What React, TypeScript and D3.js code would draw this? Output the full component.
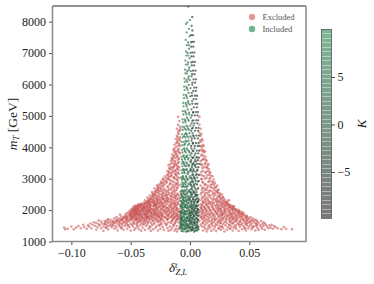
import React, { useEffect, useRef } from 'react'
import * as d3 from 'd3'

type Row = [number, number[]]

// each row: mT in GeV, then delta values in units of 0.001
const excludedTail: Row[] = [
	[1318, [-11, 14, 29]],
	[1337, [-73, -41, -33, -18, 18, 22, 41]],
	[1352, [-61, -50, -27, -13, 11, 36, 47, 55]],
	[1371, [-79, -56, -47, -38, -22, -16, 26, 31, 58, 63]],
	[1388, [-105, -98, -69, -43, -31, -10, 15, 20, 44, 52, 77, 86]],
	[1404, [-103, -87, -64, -53, -35, -25, -12, 13, 34, 39, 61, 70, 81]],
	[1423, [-92, -83, -75, -58, -46, -19, 24, 28, 49, 57, 66, 74]],
	[1441, [-106, -96, -71, -62, -40, -29, -15, -9, 17, 37, 46, 53, 68]],
	[1459, [-89, -78, -66, -51, -44, -23, 12, 21, 32, 42, 60, 72, 79]],
	[1476, [-100, -85, -73, -59, -48, -34, -17, 10, 27, 35, 50, 56, 65]],
	[1494, [-94, -80, -68, -63, -55, -37, -28, -11, 19, 25, 45, 54, 62, 71]],
	[1515, [-86, -76, -70, -60, -52, -42, -32, -20, 16, 30, 38, 48, 59, 67]],
	[1533, [-90, -82, -65, -57, -49, -39, -26, -14, 9, 23, 33, 43, 51, 64, 69]],
	[1552, [-77, -72, -67, -54, -45, -36, -24, -8, 18, 28, 40, 47, 56, 61]],
	[1574, [-84, -74, -62, -58, -50, -41, -30, -21, -13, 14, 22, 36, 44, 52, 63]],
	[1592, [-79, -69, -64, -53, -47, -38, -33, -16, 11, 26, 31, 41, 49, 58]],
	[1613, [-81, -71, -66, -60, -55, -43, -27, -18, -10, 20, 29, 37, 46, 54, 62]],
	[1635, [-75, -68, -63, -56, -48, -40, -35, -22, 13, 24, 34, 39, 51, 57]],
	[1654, [-72, -65, -59, -51, -44, -37, -29, -12, 8, 17, 30, 42, 47, 60]],
	[1673, [-77, -70, -61, -54, -46, -41, -31, -25, -15, 21, 27, 35, 45, 52, 56]],
	[1695, [-67, -62, -57, -49, -42, -34, -23, -9, 15, 25, 33, 40, 48, 55]],
]

const excludedBody: Row[] = [
	[1714, [-69, -58, -52, -47, -39, -36, -28, -19, -11, 10, 19, 28, 38, 43, 50]],
	[1733, [-64, -60, -54, -45, -41, -32, -24, -14, 16, 23, 31, 36, 46, 53]],
	[1756, [-56, -50, -43, -37, -30, -21, -17, -8, 12, 26, 34, 41, 49]],
	[1775, [-62, -53, -48, -40, -35, -26, -13, 9, 18, 29, 37, 44, 51]],
	[1798, [-58, -51, -46, -38, -33, -22, -16, -10, 14, 21, 32, 39, 47]],
	[1816, [-55, -49, -44, -36, -29, -25, -12, 11, 24, 30, 35, 42, 48]],
	[1839, [-52, -47, -41, -34, -27, -18, -9, 8, 17, 27, 33, 40, 46]],
	[1857, [-59, -50, -43, -39, -31, -23, -15, 13, 20, 25, 36, 44]],
	[1878, [-54, -48, -45, -37, -28, -20, -11, 10, 16, 29, 38, 43]],
	[1896, [-51, -46, -42, -35, -30, -24, -13, 19, 23, 31, 35, 45]],
	[1917, [-53, -49, -40, -33, -26, -17, -8, 12, 22, 28, 37, 41]],
	[1939, [-47, -44, -38, -32, -21, -14, 9, 15, 26, 33, 39, 44]],
	[1958, [-51, -45, -41, -36, -29, -19, -10, 18, 24, 30, 42]],
	[1979, [-48, -43, -39, -34, -25, -16, 11, 21, 27, 34, 40]],
	[1998, [-50, -46, -37, -31, -22, -12, 8, 14, 29, 36, 41]],
	[2019, [-47, -42, -35, -28, -18, -9, 17, 23, 32, 38]],
	[2037, [-49, -44, -40, -33, -24, -15, 10, 20, 26, 35, 39]],
	[2060, [-46, -41, -36, -30, -20, -11, 13, 25, 31, 37]],
	[2079, [-48, -43, -38, -27, -17, 9, 16, 22, 33, 36]],
	[2098, [-45, -39, -34, -23, -13, 12, 19, 28, 34]],
	[2121, [-47, -42, -37, -31, -26, -8, 15, 24, 30, 37]],
	[2143, [-46, -40, -35, -21, -16, 10, 21, 27, 35]],
	[2165, [-44, -41, -33, -29, -12, 18, 25, 31, 33]],
	[2188, [-43, -38, -30, -24, -19, 9, 14, 23, 29]],
	[2210, [-41, -36, -27, -15, -10, 17, 26, 32]],
	[2236, [-39, -34, -31, -22, -13, 12, 20, 28, 31]],
	[2259, [-37, -33, -25, -18, 11, 16, 24, 30]],
	[2288, [-36, -29, -21, -9, 19, 22, 27]],
	[2312, [-38, -32, -26, -14, 8, 13, 25, 33]],
	[2341, [-35, -28, -23, -17, 15, 21, 29]],
	[2369, [-33, -30, -20, -11, 10, 18, 26]],
	[2398, [-36, -27, -24, -13, 14, 23, 28]],
	[2431, [-32, -26, -16, -9, 12, 20, 25]],
	[2463, [-34, -29, -22, -12, 17, 24]],
	[2498, [-31, -25, -18, -10, 9, 19, 27]],
	[2534, [-30, -23, -15, 13, 21, 25]],
	[2573, [-32, -27, -19, -8, 11, 16, 23]],
	[2610, [-29, -24, -13, 18, 22]],
	[2651, [-28, -21, -16, 10, 14, 24]],
	[2695, [-30, -25, -11, 12, 20]],
	[2738, [-27, -19, -14, 17, 22]],
]

const excludedNeck: Row[] = [
	[2782, [-28, -23, -9, 9, 15, 23]],
	[2826, [-25, -17, -12, 13, 19]],
	[2873, [-24, -20, -10, 11, 21]],
	[2921, [-22, -15, 16, 18]],
	[2975, [-23, -18, -11, 10, 20]],
	[3024, [-20, -14, -9, 14, 17]],
	[3078, [-21, -16, 12, 19]],
	[3131, [-19, -12, 9, 16]],
	[3188, [-18, -15, -10, 13, 17]],
	[3247, [-19, -13, 11, 15]],
	[3309, [-17, -11, 16]],
	[3368, [-16, -14, -9, 12, 14]],
	[3432, [-18, -12, 10, 15]],
	[3497, [-15, -10, 13]],
	[3561, [-16, -13, 9, 14]],
	[3626, [-15, -9, 11, 12]],
	[3694, [-14, -11, 13]],
	[3768, [-15, -12, 10]],
	[3841, [-13, -9, 12]],
	[3914, [-14, -10, 9, 11]],
	[3995, [-12, 10]],
	[4083, [-13, -9, 11]],
	[4172, [-11, 9]],
	[4264, [-12, -9, 10]],
	[4367, [-11, 9]],
	[4471, [-10, 8]],
	[4593, [-11, -8, 9]],
	[4716, [-10, 8]],
	[4838, [-9]],
	[4969, [-10, 8]],
]

// second pass over the dense parts of the excluded cloud
const excludedFillLeft: Row[] = [
	[1446, [-57.5, -33.5, -70.5]],
	[1507, [-44.5, -25.5, -65.5, -13.5, -52.5]],
	[1563, [-30.5, -59.5, -47.5, -19.5, -71.5, -39.5]],
	[1602, [-56.5, -35.5, -12.5, -44.5, -24.5, -64.5]],
	[1645, [-31.5, -52.5, -15.5, -42.5, -61.5, -26.5, -38.5]],
	[1688, [-53.5, -37.5, -19.5, -45.5, -27.5, -58.5, -11.5]],
	[1707, [-33.5, -50.5, -14.5, -43.5, -24.5]],
	[1727, [-49.5, -29.5, -38.5, -56.5, -18.5, -10.5, -44.5]],
	[1748, [-34.5, -47.5, -25.5, -13.5, -53.5, -40.5]],
	[1767, [-45.5, -31.5, -20.5, -55.5, -36.5, -9.5]],
	[1787, [-42.5, -27.5, -49.5, -15.5, -35.5, -23.5]],
	[1808, [-48.5, -32.5, -18.5, -40.5, -53.5, -11.5, -26.5]],
	[1827, [-37.5, -23.5, -46.5, -30.5, -14.5, -42.5]],
	[1848, [-44.5, -28.5, -50.5, -36.5, -19.5, -10.5]],
	[1868, [-32.5, -46.5, -24.5, -41.5, -13.5, -38.5]],
	[1887, [-49.5, -26.5, -36.5, -17.5, -44.5, -29.5]],
	[1906, [-38.5, -47.5, -21.5, -32.5, -11.5, -43.5]],
	[1928, [-45.5, -29.5, -35.5, -15.5, -50.5, -24.5]],
	[1948, [-41.5, -27.5, -48.5, -19.5, -34.5, -9.5]],
	[1969, [-36.5, -46.5, -22.5, -30.5, -13.5, -42.5]],
	[1988, [-44.5, -26.5, -39.5, -17.5, -48.5, -33.5]],
	[2008, [-34.5, -45.5, -20.5, -29.5, -11.5, -40.5]],
	[2028, [-43.5, -24.5, -37.5, -14.5, -47.5, -31.5]],
	[2049, [-38.5, -27.5, -45.5, -18.5, -32.5, -10.5]],
	[2070, [-44.5, -34.5, -22.5, -39.5, -13.5, -28.5]],
	[2090, [-41.5, -25.5, -46.5, -15.5, -36.5, -19.5]],
	[2112, [-33.5, -43.5, -28.5, -11.5, -38.5, -21.5]],
	[2132, [-44.5, -24.5, -36.5, -17.5, -30.5]],
	[2154, [-39.5, -28.5, -42.5, -13.5, -22.5, -33.5]],
	[2176, [-35.5, -41.5, -26.5, -16.5, -30.5, -10.5]],
	[2199, [-38.5, -23.5, -33.5, -12.5, -28.5]],
	[2223, [-35.5, -29.5, -20.5, -37.5, -14.5, -25.5]],
	[2248, [-31.5, -23.5, -35.5, -16.5, -27.5, -10.5]],
	[2274, [-34.5, -27.5, -19.5, -12.5, -30.5]],
	[2301, [-30.5, -24.5, -34.5, -15.5, -19.5]],
	[2328, [-27.5, -33.5, -21.5, -11.5, -18.5]],
	[2356, [-31.5, -25.5, -15.5, -22.5, -9.5]],
	[2385, [-28.5, -18.5, -33.5, -12.5, -22.5]],
	[2415, [-30.5, -23.5, -14.5, -19.5]],
	[2448, [-27.5, -20.5, -31.5, -11.5, -16.5]],
	[2480, [-29.5, -23.5, -13.5, -19.5]],
	[2516, [-26.5, -20.5, -31.5, -15.5, -10.5]],
	[2553, [-28.5, -22.5, -12.5, -17.5]],
	[2590, [-25.5, -20.5, -29.5, -14.5]],
	[2630, [-26.5, -18.5, -11.5, -22.5]],
	[2672, [-24.5, -17.5, -13.5, -27.5]],
	[2716, [-22.5, -15.5, -26.5, -10.5]],
	[2760, [-24.5, -18.5, -12.5]],
	[2804, [-21.5, -14.5, -26.5, -10.5]],
	[2850, [-22.5, -16.5, -11.5]],
	[2898, [-19.5, -24.5, -13.5]],
	[2948, [-20.5, -16.5, -10.5]],
	[3001, [-18.5, -12.5, -22.5]],
	[3051, [-17.5, -13.5, -10.5]],
	[3105, [-18.5, -11.5, -15.5]],
	[3160, [-16.5, -12.5, -9.5]],
	[3218, [-17.5, -11.5, -14.5]],
	[3278, [-15.5, -12.5, -9.5]],
	[3338, [-14.5, -10.5, -17.5]],
	[3400, [-13.5, -10.5]],
	[3465, [-16.5, -11.5, -13.5]],
	[3529, [-12.5, -9.5]],
	[3594, [-14.5, -10.5]],
	[3660, [-12.5, -9.5, -15.5]],
	[3730, [-13.5, -10.5]],
	[3805, [-11.5, -8.5]],
	[3878, [-12.5, -10.5]],
	[3955, [-13.5, -9.5]],
	[4040, [-10.5, -8.5]],
	[4128, [-11.5, -9.5]],
	[4218, [-10.5, -8.5]],
	[4316, [-10.5, -8.5]],
	[4420, [-9.5]],
	[4532, [-9.5, -8.5]],
	[4655, [-8.5]],
]

const excludedFillRight: Row[] = [
	[1412, [24.5, 46.5, 33.5]],
	[1468, [38.5, 15.5, 52.5, 26.5]],
	[1527, [21.5, 41.5, 12.5, 56.5, 33.5]],
	[1583, [35.5, 47.5, 18.5, 25.5, 55.5, 10.5]],
	[1624, [42.5, 23.5, 33.5, 15.5, 50.5]],
	[1664, [25.5, 38.5, 11.5, 48.5, 18.5, 53.5]],
	[1704, [30.5, 44.5, 13.5, 21.5, 36.5]],
	[1745, [39.5, 20.5, 47.5, 27.5, 11.5, 33.5]],
	[1786, [24.5, 42.5, 15.5, 35.5, 9.5, 47.5]],
	[1826, [31.5, 19.5, 38.5, 26.5, 44.5, 12.5]],
	[1868, [34.5, 22.5, 41.5, 14.5, 27.5]],
	[1907, [26.5, 40.5, 17.5, 33.5, 10.5, 43.5]],
	[1950, [36.5, 21.5, 29.5, 13.5, 41.5]],
	[1990, [24.5, 32.5, 16.5, 38.5, 10.5]],
	[2030, [29.5, 19.5, 36.5, 12.5, 25.5]],
	[2071, [34.5, 23.5, 15.5, 28.5, 9.5]],
	[2112, [26.5, 32.5, 18.5, 11.5, 36.5]],
	[2155, [29.5, 22.5, 13.5, 33.5]],
	[2199, [27.5, 19.5, 31.5, 10.5, 15.5]],
	[2248, [25.5, 17.5, 29.5, 13.5, 22.5]],
	[2300, [23.5, 28.5, 15.5, 10.5, 31.5]],
	[2355, [26.5, 19.5, 12.5, 22.5]],
	[2414, [24.5, 16.5, 27.5, 10.5]],
	[2480, [21.5, 15.5, 25.5, 12.5]],
	[2552, [19.5, 23.5, 14.5, 9.5]],
	[2630, [20.5, 12.5, 16.5, 23.5]],
	[2716, [18.5, 14.5, 10.5, 21.5]],
	[2803, [17.5, 12.5, 20.5]],
	[2896, [15.5, 19.5, 10.5]],
	[2998, [16.5, 12.5, 9.5]],
	[3104, [14.5, 17.5, 10.5]],
	[3218, [13.5, 9.5, 16.5]],
	[3337, [14.5, 10.5]],
	[3465, [12.5, 9.5, 15.5]],
	[3595, [13.5, 10.5]],
	[3730, [11.5, 9.5]],
	[3878, [10.5, 12.5]],
	[4040, [9.5, 11.5]],
	[4218, [8.5, 10.5]],
	[4420, [9.5]],
]

// included points, K roughly the same within one list
const includedHigh: Row[] = [
	[1322, [-5.4, -1.2]],
	[1407, [-7.8, -5, -2.6, -0.4]],
	[1498, [-8.2, -6.3, -3.4, -1.7]],
	[1633, [-7.4, -5.9, -2.9, -0.8]],
	[1719, [-8.1, -6.6, -4.2, -2.2]],
	[1856, [-7.7, -5.1, -3.3, -0.9]],
	[1937, [-8.3, -6.2, -4.5, -1.9]],
	[2071, [-7.5, -5.4, -2.7, -1.1]],
	[2162, [-8, -6.4, -3.8, -2.1]],
	[2295, [-7.2, -4.9, -3, -0.7]],
	[2378, [-7.9, -5.9, -4, -1.5]],
	[2511, [-7.1, -5.2, -2.4]],
	[2604, [-7.7, -6, -3.6, -1.3]],
	[2733, [-6.8, -4.6, -2.8]],
	[2822, [-7.4, -5.5, -3.4, -0.6]],
	[2958, [-6.9, -4.3, -1.8]],
	[3041, [-7.5, -5.7, -3.1]],
	[3177, [-6.6, -4.4, -1.4]],
	[3262, [-7.2, -5.3, -2.5]],
	[3394, [-6.4, -3.7, -0.9]],
	[3483, [-7, -5, -2.3]],
	[3612, [-6.7, -4.1, -1.6]],
	[3704, [-7.1, -5.6, -3.2]],
	[3835, [-6.3, -3.5, -0.5]],
	[3921, [-6.8, -4.7, -2]],
	[4068, [-6.5, -4.8, -1.8]],
	[4173, [-7, -5.4, -3]],
	[4312, [-6.2, -3.9, -1.2]],
	[4409, [-6.7, -4.5, -2.6]],
	[4553, [-6, -3.3, -0.9]],
	[4651, [-6.4, -4.9, -2.1]],
	[4792, [-5.9, -3.8]],
	[4888, [-6.3, -4.4, -1.7]],
	[5044, [-5.6, -3, -0.6]],
	[5151, [-6, -4.1]],
	[5303, [-5.4, -2.7]],
	[5411, [-5.7, -3.6, -1.3]],
	[5566, [-5, -2.4]],
	[5672, [-5.3, -3.3]],
	[5824, [-4.6, -1.9]],
	[5933, [-5, -3]],
	[6085, [-4.3, -2.2]],
	[6191, [-4.7, -1.5]],
	[6353, [-3.9, -2.6]],
	[6472, [-4.2, -1.1]],
	[6634, [-3.5, -2]],
	[6763, [-3.9]],
	[6922, [-3.1, -1.4]],
	[7051, [-3.4]],
	[7253, [-2.7, -0.9]],
	[7420, [-3.6]],
	[7660, [-2.8]],
	[7770, [-0.8]],
	[7930, [-3.4]],
	[7980, [-2.2]],
	[8054, [0]],
	[8480, [-1.5]],
]

const includedMid: Row[] = [
	[1309, [-3.3, 3.4]],
	[1346, [-6.8, -1.4, 0.8, 5.9]],
	[1382, [-4.1, 2.2, 7.2]],
	[1428, [-8.4, -6.4, -3.2, 1.6, 4.2]],
	[1467, [-7.2, -2.1, 0.3, 6.3]],
	[1521, [-5.6, -0.9, 3, 5.4]],
	[1553, [-7.1, -4.6, -1.9, 2.1]],
	[1589, [-8.1, -3.5, 0.5, 4.5]],
	[1647, [-6.1, -3.7, -1.2, 1.2, 3.8]],
	[1682, [-7.7, -4.4, 0, 6.6]],
	[1741, [-6.9, -2.4, 1.9, 5]],
	[1772, [-7.5, -4.8, -2.6, 0.2, 2.6]],
	[1818, [-5.3, -0.5, 3.5, 7]],
	[1889, [-6.6, -3.5, -0.6, 1.7, 4.4]],
	[1913, [-7.9, -4.7, 0.9, 5.6]],
	[1974, [-7.2, -4.1, -2.3, 0.7, 3.3, 5.8]],
	[2014, [-6.3, -1.3, 2.4, 6.7]],
	[2098, [-6.2, -3.6, -0.4, 2, 4.6]],
	[2133, [-7.6, -4.3, 1.1, 5.2]],
	[2216, [-7, -4.9, -1.6, 0.9, 3.5]],
	[2257, [-5.7, -2.8, 2.9, 6.5]],
	[2333, [-5.9, -2.9, 0.1, 2.7, 5]],
	[2419, [-6.8, -3.3, -0.8, 1.4, 4]],
	[2476, [-7.4, -4.2, 0.5, 5.7]],
	[2552, [-5.5, -2.2, 0.6, 3.1]],
	[2638, [-6.5, -4.4, -0.5, 2.2, 4.8]],
	[2769, [-5.6, -1.9, 1, 3.6]],
	[2884, [-6.3, -3.8, 0.3, 2.5]],
	[2993, [-5.2, -2.5, 1.5, 4.3]],
	[3082, [-6, -3.4, -0.3, 3.2]],
	[3215, [-5, -1.5, 1.9, 4.5]],
	[3304, [-5.8, -2.8, 0.4, 2.9]],
	[3436, [-4.7, -0.7, 1.8, 4.1]],
	[3519, [-5.5, -3.1, 0.9, 3.4]],
	[3658, [-4.5, -1.1, 2.3]],
	[3742, [-5.2, -2.4, 0.2, 3.9]],
	[3877, [-4.2, -0.9, 2.8]],
	[3962, [-5, -2.7, 1.1, 3.7]],
	[4113, [-4.3, -0.7, 2.4]],
	[4208, [-3.6, -1.4, 1.3]],
	[4351, [-5, -2.3, 0.5, 3.1]],
	[4447, [-3.4, -0.4, 2.2]],
	[4596, [-4.4, -1.6, 1.6]],
	[4689, [-2.9, 0.3, 3]],
	[4844, [-4, -1.1, 2]],
	[4947, [-2.5, 0.7]],
	[5103, [-3.6, -0.8, 2.6]],
	[5206, [-1.9, 1.2]],
	[5362, [-3.1, -0.3]],
	[5471, [-1.6, 1.8]],
	[5623, [-3, 0.2]],
	[5733, [-1.2, 1.5]],
	[5882, [-2.6, 0.4]],
	[5991, [-0.9, 1.9]],
	[6142, [-2.9, -0.2]],
	[6258, [-1, 1.3]],
	[6423, [-2.3, 0.6]],
	[6541, [-0.6]],
	[6702, [-1.7, 1]],
	[6833, [-0.3]],
	[7004, [-2, 0.5]],
	[7142, [-0.8]],
	[7341, [-1.6, 0.7]],
	[7533, [-0.4]],
]

const includedLow: Row[] = [
	[1361, [1.8, 4.8]],
	[1452, [-0.2, 2.4, 5.4, 7]],
	[1604, [1.1, 3.6, 6.2]],
	[1703, [-0.7, 2, 4.6, 6.9]],
	[1833, [0.6, 3.1, 5.7]],
	[1926, [-0.3, 2.3, 4.9, 7.3]],
	[2042, [1.4, 3.9, 6.4]],
	[2151, [0.1, 2.8, 5.3, 7]],
	[2267, [1.2, 4.1, 6.6]],
	[2352, [-0.5, 2.5, 5.6, 7.2]],
	[2488, [1.7, 4.5, 6.3]],
	[2573, [0.4, 3.2, 5.5]],
	[2701, [1.5, 4.2, 6.9]],
	[2815, [0.8, 3.3, 5.9]],
	[2927, [2.1, 4.7, 7.4]],
	[3036, [0.9, 3.7, 6.1]],
	[3118, [1.9, 5.2, 7.5]],
	[3253, [0.2, 3, 6]],
	[3367, [1.6, 4.9, 7.1]],
	[3471, [2.6, 5.8, 7.8]],
	[3588, [1, 4.4, 6.7]],
	[3669, [2.9, 5.5, 7.6]],
	[3806, [1.3, 4.6, 7]],
	[3893, [2.2, 5.7, 7.7]],
	[4041, [1, 4, 6.5, 7.9]],
	[4137, [2.5, 5, 7.2]],
	[4282, [1.5, 3.9, 6.6]],
	[4375, [2.8, 5.4, 7.6]],
	[4526, [1.1, 4.3, 6.8]],
	[4618, [2.3, 5.1, 7.1]],
	[4763, [1.4, 3.7, 6.2]],
	[4859, [2.9, 5.3, 6.9]],
	[5016, [1.6, 4.1, 6.4]],
	[5122, [2.7, 5, 6.7]],
	[5274, [3.3, 5.8]],
	[5383, [1.9, 4.6, 6.2]],
	[5537, [3.1, 5.3]],
	[5641, [1.7, 4.2, 5.9]],
	[5796, [2.8, 5]],
	[5902, [3.6, 5.4]],
	[6058, [2, 4.3]],
	[6164, [3, 5]],
	[6327, [1.8, 3.8]],
	[6441, [2.6, 4.6]],
	[6608, [1.5, 3.5]],
	[6719, [2.3, 4.1]],
	[6895, [1.2, 3]],
	[7017, [2, 3.7]],
	[7204, [1, 2.8]],
	[7358, [1.9, 3.3]],
	[7572, [0.9, 2.4]],
	[7720, [2]],
	[7870, [1.4]],
	[8150, [1.9]],
]

// extra points in the dark lower part of the band
const includedCore: Row[] = [
	[1332, [-2.3, 4.1, -7.1]],
	[1395, [0.6, -5.9, 3.1, 6.6]],
	[1441, [-1.1, -4.4, 5.2]],
	[1483, [-7.4, 1.9, -3.8, 6.9]],
	[1512, [4.4, -2.4, -5.2]],
	[1541, [0.9, -7.6, 6.1, -3.1]],
	[1571, [-0.4, 3.6, -6.1]],
	[1618, [-4.9, 2.6, 5.6, -8]],
	[1661, [-2.7, 0.4, 6.4]],
	[1692, [-5.6, 3.3, -7.1]],
	[1752, [1.2, -3.2, 5.9, -0.3]],
	[1789, [-6.2, 3.9, -1.5]],
	[1824, [-7.6, 0.8, 6.8]],
	[1866, [-4.1, 2.7, -2.1, 5.1]],
	[1902, [-5.7, 0.2, 6.1]],
	[1958, [-7.3, 1.5, -3.1, 4.3]],
	[1999, [-5.2, 3.6, -0.8, 6.9]],
	[2055, [-2.6, 1.9, -6.9, 5.4]],
	[2087, [-4.4, 0.6, 3.3]],
	[2119, [-7.7, -1.9, 4.8, 6.1]],
	[2180, [-5.5, 1.6, -3.2, 3.7]],
	[2234, [-6.5, -0.9, 5.8]],
	[2283, [-4.1, 1.3, 6.9, -7.6]],
	[2318, [-2.1, 3.9, -5.3]],
	[2405, [-5.2, 0.2, 2.9, 6.5]],
	[2447, [-1.9, -6.1, 5]],
	[2526, [-3.6, 1.6, 4.4, -7.2]],
	[2589, [-5.2, -0.6, 3]],
	[2662, [-2.6, 0.9, 6.2]],
	[2748, [-6.3, -3.6, 2.4]],
	[2845, [-1.1, 4.6, -5.1]],
	[2906, [-3.1, 1.3, 6.6]],
	[3012, [-6.4, -0.4, 3.1]],
	[3147, [-2.1, 2.6, 5.8]],
	[3285, [-4.3, 0.9, 6.4]],
	[3414, [-2.8, 3.9]],
	[3546, [-6.2, 0.1, 5.1]],
	[3687, [-2.9, 1.6, 6]],
]

const kLevels = { high: 7.5, mid: 2, low: -6.5, core: 4 }

const xTicks = [-0.1, -0.05, 0, 0.05]
const yTicks = [1000, 2000, 3000, 4000, 5000, 6000, 7000, 8000]
const kTicks = [-5, 0, 5]
const legendItems = ['Excluded', 'Included']

const WIDTH = 374
const HEIGHT = 284
const SERIF = '"Liberation Serif", serif'
const EXCLUDED_COLOR = '#c64a4a'

const flatten = (rows: Row[]) =>
	rows.flatMap(([mt, deltas]) => deltas.map(d => ({ mt, delta: d / 1000 })))

const App = () => {
	const ref = useRef<SVGSVGElement>(null)

	useEffect(() => {
		const svg = d3.select(ref.current)
		svg.selectAll('*').remove()

		const x = d3.scaleLinear().domain([-0.1159, 0.0978]).range([52.5, 306])
		const y = d3.scaleLinear().domain([1000, 8500]).range([241.5, 6])
		const k = d3.scaleLinear().domain([-9.9, 10]).range([218.5, 29.5])
		const color = d3
			.scaleLinear<string>()
			.domain([-9.9, 10])
			.range(['#262626', '#2e8b57'])

		const excluded = flatten([
			...excludedTail,
			...excludedBody,
			...excludedNeck,
			...excludedFillLeft,
			...excludedFillRight,
		])

		svg.append('g')
			.selectAll('circle')
			.data(excluded)
			.enter()
			.append('circle')
			.attr('cx', d => x(d.delta))
			.attr('cy', d => y(d.mt))
			.attr('r', 1.3)
			.attr('fill', EXCLUDED_COLOR)
			.attr('opacity', 0.55)

		const groups: [Row[], number][] = [
			[includedCore, kLevels.core],
			[includedHigh, kLevels.high],
			[includedMid, kLevels.mid],
			[includedLow, kLevels.low],
		]
		groups.forEach(([rows, level]) => {
			svg.append('g')
				.selectAll('circle')
				.data(flatten(rows))
				.enter()
				.append('circle')
				.attr('cx', d => x(d.delta))
				.attr('cy', d => y(d.mt))
				.attr('r', 1.15)
				.attr('fill', color(level))
				.attr('opacity', 0.68)
		})

		// axes
		const xAxis = svg
			.append('g')
			.attr('transform', 'translate(0,241.5)')
			.call(d3.axisBottom(x).tickValues(xTicks).tickSize(3.5))
		const yAxis = svg
			.append('g')
			.attr('transform', 'translate(52.5,0)')
			.call(d3.axisLeft(y).tickValues(yTicks).tickSize(3.5))
		yAxis.selectAll('.tick text').text(d => String(d))

		;[xAxis, yAxis].forEach(a => {
			a.select('.domain').remove()
			a.selectAll('line').attr('stroke', '#222').attr('stroke-width', 0.8)
			a.selectAll('text')
				.attr('fill', '#222')
				.style('font-family', SERIF)
				.style('font-size', '12px')
		})
		xAxis.selectAll('text')
			.attr('dy', null)
			.attr('y', 15.5)
			.text(d => d3.format('.2f')(d as number).replace('-', '\u2212'))

		// spines
		const frame = svg.append('g').attr('fill', 'none')
		frame.append('path')
			.attr('d', `M${x.range()[0]},${y.range()[1]}H${x.range()[1]}`)
			.attr('stroke', '#222')
			.attr('stroke-width', 1)
		frame.append('path')
			.attr('d', `M${x.range()[0]},${y.range()[1]}V${y.range()[0]}H${x.range()[1]}V${y.range()[1]}`)
			.attr('stroke', '#8a8a8a')
			.attr('stroke-width', 1.5)

		// legend
		legendItems.forEach((name, i) => {
			const ly = 17 + i * 12
			svg.append('circle')
				.attr('cx', 252)
				.attr('cy', ly)
				.attr('r', 3.2)
				.attr('fill', i === 0 ? '#e59a9a' : '#6fb592')
			svg.append('text')
				.attr('x', 262.5)
				.attr('y', ly + 2.6)
				.attr('fill', '#555')
				.style('font-family', SERIF)
				.style('font-size', '8.5px')
				.text(name)
		})

		// colorbar
		const barX = 321.5
		const barW = 10
		const barSteps = d3.range(0, 42)
		const stepSize = (k.domain()[1] - k.domain()[0]) / barSteps.length
		const bar = svg.append('g')
		barSteps.forEach(i => {
			const v = k.domain()[0] + i * stepSize
			bar.append('rect')
				.attr('x', barX)
				.attr('width', barW)
				.attr('y', k(v + stepSize))
				.attr('height', k(v) - k(v + stepSize) - 0.4)
				.attr('fill', color(v + stepSize / 2))
				.attr('opacity', 0.62)
		})
		bar.append('rect')
			.attr('x', barX)
			.attr('y', k.range()[1])
			.attr('width', barW)
			.attr('height', k.range()[0] - k.range()[1])
			.attr('fill', 'none')
			.attr('stroke', '#555')
			.attr('stroke-width', 0.8)

		const kAxis = svg
			.append('g')
			.attr('transform', `translate(${barX + barW},0)`)
			.call(d3.axisRight(k).tickValues(kTicks).tickSize(3.5))
		kAxis.select('.domain').remove()
		kAxis.selectAll('line').attr('stroke', '#222').attr('stroke-width', 0.8)
		kAxis.selectAll('text')
			.attr('fill', '#222')
			.attr('x', 6)
			.style('font-family', SERIF)
			.style('font-size', '12px')
			.text(d => String(d).replace('-', '\u2212'))

		// axis titles
		const yLabel = svg
			.append('text')
			.attr('transform', 'translate(17,124) rotate(-90)')
			.attr('text-anchor', 'middle')
			.attr('fill', '#222')
			.style('font-family', SERIF)
			.style('font-size', '13.5px')
		yLabel.append('tspan').attr('font-style', 'italic').text('m')
		yLabel.append('tspan').attr('font-style', 'italic').attr('dy', 2).style('font-size', '9px').text('T')
		yLabel.append('tspan').attr('dy', -2).text(' [GeV]')

		const xLabel = svg
			.append('text')
			.attr('x', 169)
			.attr('y', 272)
			.attr('fill', '#222')
			.style('font-family', SERIF)
			.style('font-size', '13px')
		xLabel.append('tspan').attr('font-style', 'italic').text('δ')
		xLabel.append('tspan').attr('font-style', 'italic').attr('dy', -4.5).style('font-size', '8.5px').text('t')
		xLabel.append('tspan').attr('font-style', 'italic').attr('dy', 7.5).attr('dx', -2).style('font-size', '8.5px').text('Z,L')

		svg.append('text')
			.attr('transform', 'translate(366,124) rotate(-90)')
			.attr('text-anchor', 'middle')
			.attr('fill', '#222')
			.attr('font-style', 'italic')
			.style('font-family', SERIF)
			.style('font-size', '13px')
			.text('K')
	}, [])

	return (
		<svg
			ref={ref}
			width={WIDTH}
			height={HEIGHT}
			style={{ position: 'absolute', left: 0, top: 0, background: '#fff' }}
		></svg>
	)
}

export default App
